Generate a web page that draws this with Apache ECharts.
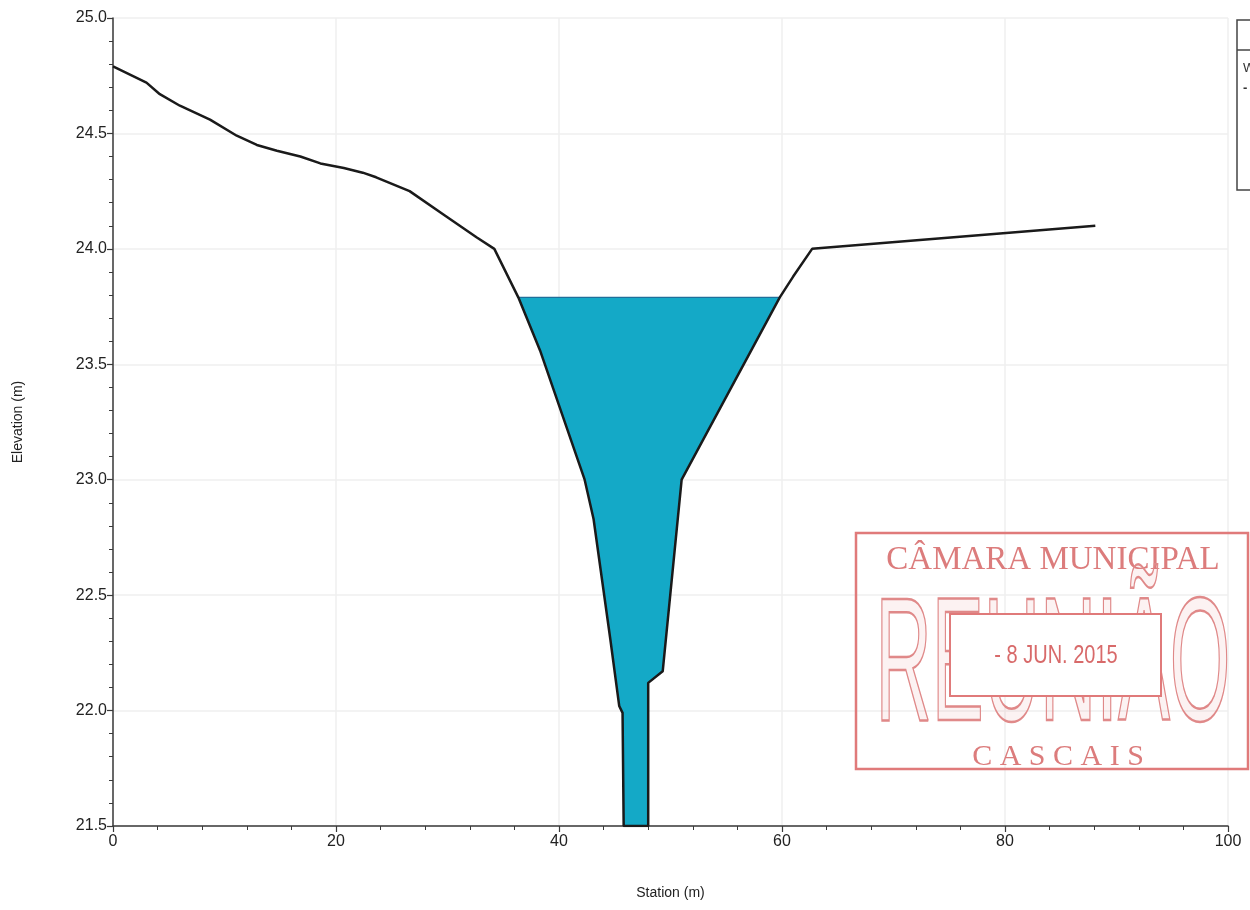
<!DOCTYPE html>
<html>
<head>
<meta charset="utf-8">
<script src="https://cdn.jsdelivr.net/npm/echarts@6/dist/echarts.min.js"></script>
<style>
  html, body { margin: 0; padding: 0; background: #ffffff; }
  #chart { width: 1250px; height: 910px; }
</style>
</head>
<body>
<div id="chart"></div>
<script>
// Ground profile (station m, elevation m)
const groundStation = [0, 3.0, 4.2, 6.0, 8.7, 11.1, 12.9, 14.7, 16.8, 18.6, 20.7, 22.4, 23.6, 26.6, 29.6, 32.6, 34.2, 36.35, 38.3, 42.3, 43.1, 44.6, 45.4, 45.7, 45.8, 48.0, 48.0, 49.3, 51.0, 59.8, 61.0, 62.7, 88.1];
const groundElev    = [24.79, 24.72, 24.67, 24.62, 24.56, 24.49, 24.45, 24.425, 24.40, 24.37, 24.35, 24.33, 24.31, 24.25, 24.15, 24.05, 24.0, 23.79, 23.56, 23.0, 22.83, 22.31, 22.02, 21.99, 21.5, 21.5, 22.12, 22.17, 23.0, 23.79, 23.88, 24.0, 24.1];
const waterLevel = 23.79;
const xTicks = [0, 20, 40, 60, 80, 100];
const yTicks = [21.5, 22.0, 22.5, 23.0, 23.5, 24.0, 24.5, 25.0];

const groundData = groundStation.map((s, i) => [s, groundElev[i]]);
const waterPoly = groundData.filter(p => p[1] <= waterLevel + 1e-9);

const chart = echarts.init(document.getElementById('chart'));
const axisColor = '#3a3a3a';
const red = '#e07a7a';

chart.setOption({
  backgroundColor: '#ffffff',
  animation: false,
  grid: { left: 113, right: 22, top: 18, bottom: 84 },
  xAxis: {
    type: 'value', min: xTicks[0], max: xTicks[xTicks.length - 1], interval: 20,
    name: 'Station (m)', nameLocation: 'middle', nameGap: 60,
    nameTextStyle: { fontFamily: 'Liberation Sans, Arial', fontSize: 14, color: '#222' },
    axisLine: { show: true, onZero: false, lineStyle: { color: axisColor, width: 1.5 } },
    axisTick: { show: true, length: 6, lineStyle: { color: axisColor, width: 1.2 } },
    minorTick: { show: true, splitNumber: 5, length: 4, lineStyle: { color: axisColor, width: 1 } },
    axisLabel: { fontFamily: 'Liberation Sans, Arial', fontSize: 16, color: '#222', margin: 8 },
    splitLine: { show: true, lineStyle: { color: '#efefef', width: 1.5 } }
  },
  yAxis: {
    type: 'value', min: yTicks[0], max: yTicks[yTicks.length - 1], interval: 0.5,
    name: 'Elevation (m)', nameLocation: 'middle', nameGap: 88,
    nameTextStyle: { fontFamily: 'Liberation Sans, Arial', fontSize: 14, color: '#222' },
    axisLine: { show: true, onZero: false, lineStyle: { color: axisColor, width: 1.5 } },
    axisTick: { show: true, length: 6, lineStyle: { color: axisColor, width: 1.2 } },
    minorTick: { show: true, splitNumber: 5, length: 4, lineStyle: { color: axisColor, width: 1 } },
    axisLabel: { fontFamily: 'Liberation Sans, Arial', fontSize: 16, color: '#222', margin: 6,
      formatter: v => v.toFixed(1) },
    splitLine: { show: true, lineStyle: { color: '#efefef', width: 1.5 } }
  },
  series: [
    {
      type: 'custom',
      name: 'Water',
      z: 2,
      data: [0],
      renderItem: function (params, api) {
        const pts = waterPoly.map(p => api.coord(p));
        const left = api.coord([waterPoly[0][0], waterLevel]);
        const right = api.coord([waterPoly[waterPoly.length - 1][0], waterLevel]);
        return {
          type: 'group',
          children: [
            { type: 'polygon', shape: { points: pts }, style: { fill: '#14a9c7', stroke: null } },
            { type: 'line', shape: { x1: left[0], y1: left[1], x2: right[0], y2: right[1] },
              style: { stroke: '#1f6f9a', lineWidth: 1.2 } }
          ]
        };
      }
    },
    {
      type: 'line',
      name: 'Ground',
      z: 3,
      data: groundData,
      symbol: 'none',
      lineStyle: { color: '#1a1a1a', width: 2.5 },
      itemStyle: { color: '#1a1a1a' }
    }
  ],
  graphic: [
    // legend box (cut off at the right edge)
    { type: 'rect', z: 10, shape: { x: 1237, y: 20, width: 60, height: 170 },
      style: { fill: '#ffffff', stroke: '#444', lineWidth: 1.5 } },
    { type: 'line', z: 10, shape: { x1: 1237, y1: 50, x2: 1250, y2: 50 },
      style: { stroke: '#444', lineWidth: 1.5 } },
    { type: 'text', z: 11, x: 1243, y: 62,
      style: { text: 'WS', font: '13px "Liberation Sans"', fill: '#333' } },
    { type: 'text', z: 11, x: 1243, y: 82,
      style: { text: '-', font: 'bold 13px "Liberation Sans"', fill: '#333' } },
    // stamp
    { type: 'rect', z: 20, shape: { x: 856, y: 533, width: 392, height: 236 },
      style: { fill: 'rgba(255,255,255,0)', stroke: red, lineWidth: 2.5 } },
    { type: 'text', z: 20, x: 1053, y: 560,
      style: { text: 'CÂMARA MUNICIPAL', font: '33px "Liberation Serif"', fill: '#dc7c7c',
        align: 'center', verticalAlign: 'middle' } },
    { type: 'text', z: 20, x: 1053, y: 760, scaleX: 0.44, scaleY: 1, originX: 0, originY: 0,
      style: { text: 'REUNIÃO', font: '177px "Liberation Sans"', fill: 'rgba(230,130,130,0.10)',
        stroke: '#e08a8a', lineWidth: 2.5, strokeNoScale: true,
        align: 'center', verticalAlign: 'bottom' } },
    { type: 'rect', z: 21, shape: { x: 950, y: 614, width: 211, height: 82 },
      style: { fill: '#ffffff', stroke: red, lineWidth: 2 } },
    { type: 'text', z: 22, x: 1056, y: 656, scaleX: 0.8, scaleY: 1, originX: 0, originY: 0,
      style: { text: '- 8 JUN. 2015', font: '25px "Liberation Sans"', fill: '#d86a6a',
        align: 'center', verticalAlign: 'middle' } },
    { type: 'text', z: 20, x: 1058, y: 757,
      style: { text: 'C A S C A I S', font: '30px "Liberation Serif"', fill: '#dc7c7c',
        align: 'center', verticalAlign: 'middle' } }
  ]
});
</script>
</body>
</html>
